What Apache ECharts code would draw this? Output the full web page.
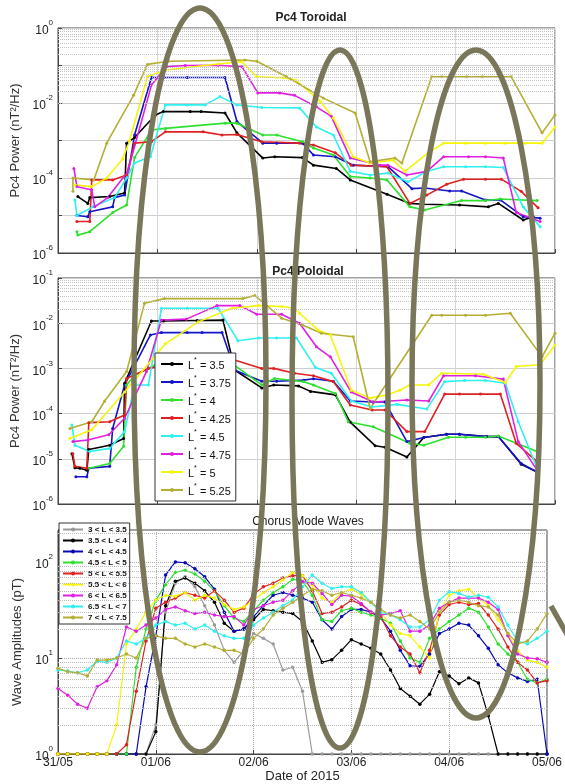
<!DOCTYPE html>
<html>
<head>
<meta charset="utf-8">
<script src="https://cdn.jsdelivr.net/npm/echarts@6/dist/echarts.min.js"></script>
<style>
  html, body { margin: 0; padding: 0; background: #fff; }
  #main { width: 565px; height: 784px; }
</style>
</head>
<body>
<div id="main"></div>
<script>
// ---- data (time in days after 31/05 00:00) ----
var dayLabels = ['31/05', '01/06', '02/06', '03/06', '04/06', '05/06'];

var lNames = ['3.5', '3.75', '4', '4.25', '4.5', '4.75', '5', '5.25'];
var lColors = ['#000000', '#1414c8', '#2ee02e', '#e02020', '#2ff0f0', '#e020e0', '#f5f50a', '#b4ae32'];

// Pc4 toroidal power (nT^2/Hz)
var tor35 = [[0.20,3.2e-5],[0.30,2.1e-5],[0.32,3.0e-5],[0.52,3.2e-5],[0.67,4.0e-5],[0.69,8.5e-4],[0.77,1.2e-3],[0.98,4.8e-3],[1.06,5.9e-3],[1.33,5.9e-3],[1.44,5.9e-3],[1.68,5.4e-3],[1.80,1.6e-3],[2.06,3.4e-4],[2.18,3.7e-4],[2.46,3.5e-4],[2.57,2.2e-4],[2.80,1.8e-4],[2.94,8.9e-5],[3.31,3.7e-5],[3.54,2.1e-5],[3.67,2.0e-5],[4.04,1.9e-5],[4.33,1.7e-5],[4.43,2.1e-5],[4.68,7.6e-6],[4.78,9.3e-6]];
var tor375 = [[0.19,1.0e-5],[0.30,9.3e-6],[0.32,1.26e-5],[0.55,1.7e-5],[0.57,3.0e-5],[0.67,3.5e-5],[0.77,1.4e-3],[0.94,4.8e-2],[1.06,4.8e-2],[1.30,4.8e-2],[1.68,4.8e-2],[1.80,3.2e-3],[2.06,8.5e-4],[2.20,8.5e-4],[2.46,8.5e-4],[2.57,4.1e-4],[2.79,3.7e-4],[2.97,2.2e-4],[3.32,2.0e-4],[3.56,5.2e-5],[3.69,5.4e-5],[3.94,4.5e-5],[4.06,4.5e-5],[4.30,2.6e-5],[4.45,2.6e-5],[4.68,9.3e-6],[4.85,8.5e-6]];
var tor4 = [[0.19,3.7e-6],[0.20,3.0e-6],[0.32,3.7e-6],[0.55,1.2e-5],[0.69,1.9e-5],[0.77,3.5e-4],[0.94,1.9e-3],[1.08,2.1e-3],[1.68,2.9e-3],[1.80,2.9e-3],[2.06,1.4e-3],[2.20,1.4e-3],[2.46,9.3e-4],[2.57,6.3e-4],[2.77,4.1e-4],[2.94,1.1e-4],[3.14,1.0e-4],[3.31,8.9e-5],[3.54,1.7e-5],[3.69,1.4e-5],[4.06,2.5e-5],[4.30,2.5e-5],[4.45,2.75e-5],[4.82,2.5e-5]];
var tor425 = [[0.19,6.9e-6],[0.32,6.9e-6],[0.34,8.9e-5],[0.55,8.9e-5],[0.69,1.2e-4],[0.77,8.5e-4],[0.94,9.3e-4],[1.08,1.7e-3],[1.46,1.7e-3],[1.65,1.4e-3],[1.80,1.45e-3],[2.05,9.3e-4],[2.43,8.5e-4],[2.57,7.6e-4],[2.79,4.7e-4],[2.95,2.2e-4],[3.31,2.0e-4],[3.54,2.1e-5],[3.71,3.5e-5],[3.91,6.8e-5],[4.08,9.3e-5],[4.30,9.3e-5],[4.46,9.3e-5],[4.66,4.4e-5],[4.83,1.6e-5]];
var tor45 = [[0.17,2.6e-5],[0.19,1.0e-5],[0.35,1.7e-5],[0.57,3.0e-5],[0.69,1.0e-4],[0.77,2.5e-4],[0.93,3.7e-4],[1.08,8.9e-3],[1.30,8.9e-3],[1.48,8.9e-3],[1.63,1.48e-2],[1.80,8.9e-3],[2.05,7.6e-3],[2.43,7.4e-3],[2.60,2.3e-3],[2.77,1.4e-3],[2.94,1.5e-4],[3.14,1.2e-4],[3.32,1.35e-4],[3.52,7.9e-5],[3.71,1.5e-4],[3.88,2.0e-4],[4.10,2.0e-4],[4.30,2.0e-4],[4.48,1.9e-4],[4.68,1.7e-5],[4.85,5.0e-6]];
var tor475 = [[0.16,1.8e-4],[0.19,5.9e-5],[0.34,4.8e-5],[0.37,1.7e-5],[0.50,3.0e-5],[0.70,1.45e-4],[0.94,3.0e-2],[1.09,9.3e-2],[1.28,1.0e-1],[1.61,1.02e-1],[1.85,9.3e-2],[2.01,1.86e-2],[2.23,1.86e-2],[2.38,1.6e-2],[2.60,7.9e-3],[2.75,4.4e-3],[2.94,3.4e-4],[3.24,2.2e-4],[3.32,2.2e-4],[3.51,1.2e-4],[3.71,1.5e-4],[3.88,3.7e-4],[4.13,3.7e-4],[4.30,3.7e-4],[4.48,3.4e-4],[4.61,1.2e-5],[4.85,6.9e-6]];
var tor5 = [[0.17,6.5e-5],[0.34,5.9e-5],[0.49,1.0e-4],[0.65,3.2e-4],[0.72,1.0e-3],[0.90,5.0e-2],[1.08,7.6e-2],[1.61,1.1e-1],[1.85,1.26e-1],[2.00,5.0e-2],[2.27,4.7e-2],[2.39,4.1e-2],[2.64,1.1e-2],[2.77,4.0e-3],[2.97,3.7e-4],[3.14,2.5e-4],[3.37,3.0e-4],[3.49,1.5e-4],[3.72,4.6e-4],[3.88,8.5e-4],[4.10,8.5e-4],[4.30,8.5e-4],[4.50,8.5e-4],[4.70,8.5e-4],[4.87,8.5e-4],[5.00,2.3e-3]];
var tor525 = [[0.15,4.4e-5],[0.15,1.0e-4],[0.36,8.9e-5],[0.49,8.5e-4],[0.76,1.6e-2],[0.90,1.07e-1],[1.11,1.3e-1],[1.88,1.4e-1],[2.00,1.3e-1],[2.30,5.0e-2],[2.67,1.35e-2],[2.99,5.4e-3],[3.14,2.7e-4],[3.39,3.4e-4],[3.46,2.5e-4],[3.76,5.0e-2],[3.86,5.0e-2],[4.11,5.0e-2],[4.27,5.0e-2],[4.56,5.0e-2],[4.87,1.6e-3],[5.00,4.8e-3]];

// Pc4 poloidal power (nT^2/Hz)
var pol35 = [[0.14,1.3e-5],[0.17,6.3e-6],[0.22,6.2e-6],[0.29,5.6e-6],[0.31,1.6e-5],[0.52,2.0e-5],[0.66,2.8e-5],[0.67,4.7e-4],[0.94,1.12e-2],[1.06,1.12e-2],[1.40,1.15e-2],[1.66,1.17e-2],[1.78,9.1e-4],[2.05,3.7e-4],[2.17,4.3e-4],[2.42,4.1e-4],[2.54,3.1e-4],[2.79,2.6e-4],[2.94,6.5e-5],[3.19,1.95e-5],[3.29,1.8e-5],[3.51,1.1e-5],[3.68,2.95e-5],[3.91,3.5e-5],[4.04,3.5e-5],[4.31,3.1e-5],[4.43,3.1e-5],[4.66,7.6e-6],[4.82,5.1e-6]];
var pol375 = [[0.18,4.0e-6],[0.29,4.0e-6],[0.31,6.2e-6],[0.52,6.8e-6],[0.55,4.7e-5],[0.67,4.3e-4],[0.93,5.5e-3],[1.04,6.2e-3],[1.30,6.2e-3],[1.45,6.2e-3],[1.65,6.2e-3],[1.78,9.1e-4],[2.05,5.2e-4],[2.20,5.2e-4],[2.47,5.5e-4],[2.57,5.9e-4],[2.77,5.2e-4],[2.94,1.9e-4],[3.17,1.8e-4],[3.29,1.8e-4],[3.51,2.4e-5],[3.68,2.95e-5],[3.91,3.5e-5],[4.04,3.5e-5],[4.31,3.1e-5],[4.43,3.1e-5],[4.66,7.9e-6],[4.82,5.1e-6]];
var pol4 = [[0.31,6.2e-6],[0.52,7.9e-6],[0.66,1.9e-5],[0.69,4.3e-4],[0.77,7.0e-4],[0.98,1.2e-3],[1.63,1.3e-3],[1.78,1.15e-3],[2.05,4.3e-4],[2.18,6.0e-4],[2.47,5.1e-4],[2.57,4.3e-4],[2.79,2.8e-4],[2.92,6.6e-5],[3.17,5.1e-5],[3.54,2.2e-5],[3.68,2.0e-5],[3.93,3.0e-5],[4.10,3.0e-5],[4.30,3.0e-5],[4.43,3.2e-5],[4.82,1.45e-5]];
var pol425 = [[0.15,1.3e-5],[0.17,6.8e-6],[0.29,6.2e-6],[0.31,6.3e-5],[0.52,6.6e-5],[0.67,9.3e-5],[0.69,6.0e-4],[0.91,1.0e-3],[1.20,1.3e-3],[1.50,1.5e-3],[1.75,1.6e-3],[2.05,1.0e-3],[2.17,1.0e-3],[2.38,7.8e-4],[2.57,6.9e-4],[2.77,5.1e-4],[2.94,1.55e-4],[3.16,1.2e-4],[3.29,1.2e-4],[3.51,4.0e-5],[3.69,4.0e-5],[3.89,2.7e-4],[4.04,2.7e-4],[4.25,2.7e-4],[4.45,2.7e-4],[4.61,2.2e-5],[4.82,8.7e-6]];
var pol45 = [[0.14,5.6e-5],[0.17,2.0e-5],[0.32,1.45e-5],[0.52,1.7e-5],[0.67,4.0e-5],[0.77,4.3e-4],[0.91,4.3e-4],[1.04,2.14e-2],[1.30,2.14e-2],[1.61,2.14e-2],[1.81,4.1e-3],[2.02,4.7e-3],[2.20,4.7e-3],[2.40,4.7e-3],[2.59,1.05e-3],[2.75,7.8e-4],[2.95,1.9e-4],[3.16,1.4e-4],[3.41,1.6e-4],[3.71,1.26e-4],[3.89,5.1e-4],[4.09,5.4e-4],[4.30,5.4e-4],[4.50,4.7e-4],[4.63,6.6e-5],[4.82,6.2e-6]];
var pol475 = [[0.15,2.4e-5],[0.30,2.6e-5],[0.51,3.4e-5],[0.67,7.9e-5],[0.89,8.5e-4],[1.04,1.17e-2],[1.29,1.23e-2],[1.60,2.45e-2],[1.83,2.45e-2],[2.00,1.58e-2],[2.25,1.58e-2],[2.43,1.0e-2],[2.60,3.0e-3],[2.74,1.8e-3],[2.95,3.0e-4],[3.17,1.8e-4],[3.51,2.0e-4],[3.73,1.9e-4],[3.88,6.9e-4],[4.20,6.9e-4],[4.48,5.8e-4],[4.63,2.4e-5],[4.82,5.6e-6]];
var pol5 = [[0.12,2.8e-5],[0.34,4.4e-5],[0.67,3.0e-4],[1.08,3.5e-3],[1.41,1.07e-2],[1.75,2.14e-2],[2.02,2.45e-2],[2.25,2.34e-2],[2.38,2.14e-2],[2.43,1.66e-2],[2.62,7.0e-3],[2.74,5.5e-3],[2.95,3.3e-4],[3.14,2.2e-4],[3.32,2.6e-4],[3.44,3.3e-4],[3.54,4.3e-4],[3.73,4.3e-4],[3.86,7.8e-4],[4.28,7.4e-4],[4.50,4.9e-4],[4.61,1.1e-3],[4.85,1.2e-3],[5.00,3.3e-3]];
var pol525 = [[0.12,4.7e-5],[0.34,6.6e-5],[0.47,1.9e-4],[0.69,8.5e-4],[0.87,2.75e-2],[1.07,3.5e-2],[1.86,3.5e-2],[1.98,4.1e-2],[2.25,1.29e-2],[2.46,9.1e-3],[2.65,6.0e-3],[2.97,5.0e-3],[3.14,1.3e-4],[3.76,1.5e-2],[3.86,1.5e-2],[4.10,1.5e-2],[4.30,1.5e-2],[4.55,1.66e-2],[4.87,1.8e-3],[5.00,6.0e-3]];

// chorus wave amplitudes (pT), one value every 0.1 day from 31/05 00:00
var chorusStep = 0.1;
var chNames = ['3 < L < 3.5', '3.5 < L < 4', '4 < L < 4.5', '4.5 < L < 5', '5 < L < 5.5', '5.5 < L < 6', '6 < L < 6.5', '6.5 < L < 7', '7 < L < 7.5'];
var chColors = ['#9a9a9a', '#000000', '#0a0ab4', '#2ee02e', '#e02020', '#f5f50a', '#e020e0', '#2ff0f0', '#b4ae32'];
var chGray = [1,1,1,1,1,1,1,1,1,1, 2,30,60,70,55,35,22,12,9,12, 18,16,14,7.5,8,4.5,1,1,1,1, 1,1,1,1,1,1,1,1,1,1, 1,1,1,1,1,1,1,1,1,1, 1];
var chBlack = [1,1,1,1,1,1,1,1,1,1, 1.7,35,63,68,60,50,38,23,19,20, 25,32,31,30,29,24,15,9,9.6,12, 15.5,14,12.6,11,7.5,4.8,4,3.3,4.2,7.2, 6.5,5.4,6.2,5.5,2.5,1,1,1,1,1, 1];
var chBlue = [1,1,1,1,1,1,1,1,1,5, 17,73,100,98,85,70,52,30,19,20, 27,35,45,48,45,42,38,25,20,27, 32,32,30,26,19,12,8.3,8.2,11,18, 20,23,22,17,12.6,8.5,7,6.2,5.7,6, 1];
var chGreen = [1,1,1,1,1,1,1,1,8,20, 40,58,78,82,75,63,50,35,26,24, 31,40,48,55,66,63,45,25,24,31, 33,30,28,26,23,15,10,9,16,20, 24,28,33,30,21,14,11,9,6,5.5, 6];
var chRed = [1,1,1,1,1,1,1,1.25,4.5,15, 33,38,42,48,45,42,50,40,30,33, 46,55,60,68,72,72,50,29,30,34, 40,36,30,27,17,13,11,7,12,28, 36,38,36,37,28,20,13,9,7.5,5.5, 5.8];
var chYellow = [1,1,1,1,1,1,2,14,20,30, 40,45,44,48,40,45,42,36,32,34, 40,48,55,65,78,72,58,42,38,48, 52,46,38,30,22,18,17,13,10,30, 45,50,52,42,35,25,18,12,9.5,9, 8];
var chMagenta = [4.8,4.1,3.3,3.0,5.0,5.8,8.5,21,19,22, 26,32,34,31,29,30,28,27,27,22, 32,35,38,40,50,62,60,47,36,45, 44,37,30,28,29,31,19,19,22,33, 38,42,42,42,38,32,17,11,10,9.8, 9.0];
var chCyan = [7.5,7.3,7.0,7.5,9.2,9.0,10,15,14,16, 22,24,22,23,20,22,19,17,16,16, 22,26,30,35,40,55,73,60,53,55, 55,48,38,30,28,25,21,21,25,40, 49,47,43,45,43,34,22,15,14,16, 19];
var chOlive = [7.8,7.2,7.0,6.5,9.5,9.5,10,11,10,16, 17,16,16,14,13,14,13,12,12,11, 16,20,28,33,38,45,52,50,45,48, 45,42,38,32,28,26,28,24,20,30, 38,40,38,35,34,28,18,14,15,20, 29];

var torData = [tor35, tor375, tor4, tor425, tor45, tor475, tor5, tor525];
var polData = [pol35, pol375, pol4, pol425, pol45, pol475, pol5, pol525];
var chData = [chGray, chBlack, chBlue, chGreen, chRed, chYellow, chMagenta, chCyan, chOlive];

// ---- helpers ----
var FONT = 'Liberation Sans, Arial, sans-serif';
var supRich = {
  b: { fontSize: 12, color: '#222', fontFamily: FONT, lineHeight: 18, verticalAlign: 'bottom' },
  s: { fontSize: 8, color: '#222', fontFamily: FONT, lineHeight: 10, verticalAlign: 'top' }
};
function powLabel(onlyEven){
  return function(v){
    var lg = Math.log10(v), e = Math.round(lg);
    if(Math.abs(lg - e) > 0.01) return '';
    if(onlyEven && e % 2 !== 0) return '';
    return '{b|10}{s|' + e + '}';
  };
}
function minorLines(k0, k1, maxV){
  var out = [];
  for(var k = k0; k <= k1; k++){
    for(var m = 2; m <= 9; m++){
      var v = m * Math.pow(10, k);
      if(v < maxV) out.push({ yAxis: v });
    }
  }
  return out;
}
function makeX(gi, showLabels, dotted){
  return {
    type: 'value', gridIndex: gi, min: 0, max: 5, interval: 1,
    axisLine: { lineStyle: { color: '#444', width: 1 } },
    axisTick: { inside: true, length: 4, lineStyle: { color: '#444' } },
    axisLabel: {
      show: showLabels, margin: 3, fontSize: 12, color: '#222', fontFamily: FONT,
      formatter: function(v){ return dayLabels[Math.round(v)] || ''; }
    },
    splitLine: { show: true, lineStyle: { color: dotted ? '#aaa' : '#d6d6d6', type: dotted ? 'dotted' : 'solid', width: 1 } },
    name: showLabels ? 'Date of 2015' : '', nameLocation: 'middle', nameGap: 16,
    nameTextStyle: { fontSize: 13, color: '#222', fontFamily: FONT }
  };
}
function makeY(gi, minV, maxV, onlyEven, name, gap, dotted){
  return {
    type: 'log', logBase: 10, gridIndex: gi, min: minV, max: maxV,
    axisLine: { show: true, lineStyle: { color: '#444', width: 1 } },
    axisTick: { inside: true, length: 4, lineStyle: { color: '#444' } },
    axisLabel: { margin: 5, formatter: powLabel(onlyEven), rich: supRich },
    splitLine: { show: true, lineStyle: { color: dotted ? '#aaa' : '#cfcfcf', type: dotted ? 'dotted' : 'solid' } },
    name: name, nameLocation: 'middle', nameGap: gap, nameRotate: 90,
    nameTextStyle: { fontSize: 13, color: '#333', fontFamily: FONT }
  };
}
function gridMarks(k0, k1, maxV, dotted){
  return {
    silent: true, symbol: ['none', 'none'], animation: false,
    label: { show: false },
    lineStyle: { color: dotted ? '#bbb' : '#c4c4c4', type: 'dotted', width: 1 },
    emphasis: { disabled: true },
    data: minorLines(k0, k1, maxV)
  };
}

var series = [];
// toroidal
torData.forEach(function(d, i){
  var s = {
    name: 'L*=' + lNames[i], type: 'line', xAxisIndex: 0, yAxisIndex: 0,
    data: d, symbol: 'circle', symbolSize: 3, color: lColors[i],
    lineStyle: { width: 1.6 }, animation: false
  };
  if(i === 0) s.markLine = gridMarks(-6, -1, 1, false);
  series.push(s);
});
// poloidal
polData.forEach(function(d, i){
  var s = {
    name: 'L*=' + lNames[i], type: 'line', xAxisIndex: 1, yAxisIndex: 1,
    data: d, symbol: 'circle', symbolSize: 3, color: lColors[i],
    lineStyle: { width: 1.6 }, animation: false
  };
  if(i === 0) s.markLine = gridMarks(-6, -2, 0.1, false);
  series.push(s);
});
// chorus
chData.forEach(function(vals, i){
  var pts = vals.map(function(v, j){ return [Math.round(j * chorusStep * 100) / 100, v]; });
  var s = {
    name: chNames[i], type: 'line', xAxisIndex: 2, yAxisIndex: 2,
    data: pts, symbol: 'circle', symbolSize: 3.5, color: chColors[i],
    lineStyle: { width: 1.2 }, animation: false
  };
  if(i === 0) s.markLine = gridMarks(0, 2, 215, true);
  series.push(s);
});

var ellStyle = { fill: 'none', stroke: '#7a765a', lineWidth: 5.5 };

var option = {
  backgroundColor: '#fff',
  animation: false,
  title: [
    { text: 'Pc4 Toroidal', left: 306, top: 7, textAlign: 'center', textStyle: { fontSize: 12, fontWeight: 'bold', color: '#222', fontFamily: FONT } },
    { text: 'Pc4 Poloidal', left: 303, top: 261, textAlign: 'center', textStyle: { fontSize: 12, fontWeight: 'bold', color: '#222', fontFamily: FONT } },
    { text: 'Chorus Mode Waves', left: 303, top: 511, textAlign: 'center', textStyle: { fontSize: 12, fontWeight: 'normal', color: '#222', fontFamily: FONT } }
  ],
  grid: [
    { left: 58, top: 28, width: 497, height: 225, show: true, borderColor: '#444', borderWidth: 1, backgroundColor: '#fff' },
    { left: 58, top: 278, width: 497, height: 226, show: true, borderColor: '#444', borderWidth: 1, backgroundColor: '#fff' },
    { left: 58, top: 530, width: 497, height: 224, show: true, borderColor: '#444', borderWidth: 1, backgroundColor: '#fff' }
  ],
  xAxis: [ makeX(0, false, false), makeX(1, false, false), makeX(2, true, true) ],
  yAxis: [
    makeY(0, 1e-6, 1, true, 'Pc4 Power (nT²/Hz)', 28, false),
    makeY(1, 1e-6, 0.1, false, 'Pc4 Power (nT²/Hz)', 28, false),
    makeY(2, 1, 215, false, 'Wave Amplitudes (pT)', 29, true)
  ],
  legend: [
    {
      data: lNames.map(function(n){ return 'L*=' + n; }),
      orient: 'vertical', left: 155, top: 353, itemGap: 4, itemWidth: 22, itemHeight: 5,
      selectedMode: false, backgroundColor: '#fff', borderColor: '#333', borderWidth: 1, padding: [4, 5],
      formatter: function(n){ return '{b|L}{s|*}{b| = ' + n.split('=')[1] + '}'; },
      textStyle: {
        rich: {
          b: { fontSize: 11, color: '#111', fontFamily: FONT, lineHeight: 14, verticalAlign: 'bottom' },
          s: { fontSize: 7, color: '#111', fontFamily: FONT, lineHeight: 8, verticalAlign: 'top' }
        }
      }
    },
    {
      data: chNames,
      orient: 'vertical', left: 59, top: 523, itemGap: 2, itemWidth: 20, itemHeight: 5,
      selectedMode: false, backgroundColor: '#fff', borderColor: '#333', borderWidth: 1, padding: [2, 3],
      textStyle: { fontSize: 8, fontWeight: 'bold', color: '#111', fontFamily: FONT, lineHeight: 9 }
    }
  ],
  graphic: [
    { type: 'ellipse', z: 100, silent: true, shape: { cx: 200, cy: 380, rx: 66, ry: 372 }, style: ellStyle },
    { type: 'ellipse', z: 100, silent: true, shape: { cx: 340, cy: 399, rx: 48, ry: 349 }, style: ellStyle },
    { type: 'ellipse', z: 100, silent: true, shape: { cx: 476, cy: 384, rx: 64, ry: 334 }, style: ellStyle },
    { type: 'line', z: 100, silent: true, shape: { x1: 551, y1: 606, x2: 568, y2: 636 }, style: { stroke: '#7a765a', lineWidth: 5.5 } }
  ],
  series: series
};

var chart = echarts.init(document.getElementById('main'), null, { renderer: 'canvas' });
chart.setOption(option);
</script>
</body>
</html>
